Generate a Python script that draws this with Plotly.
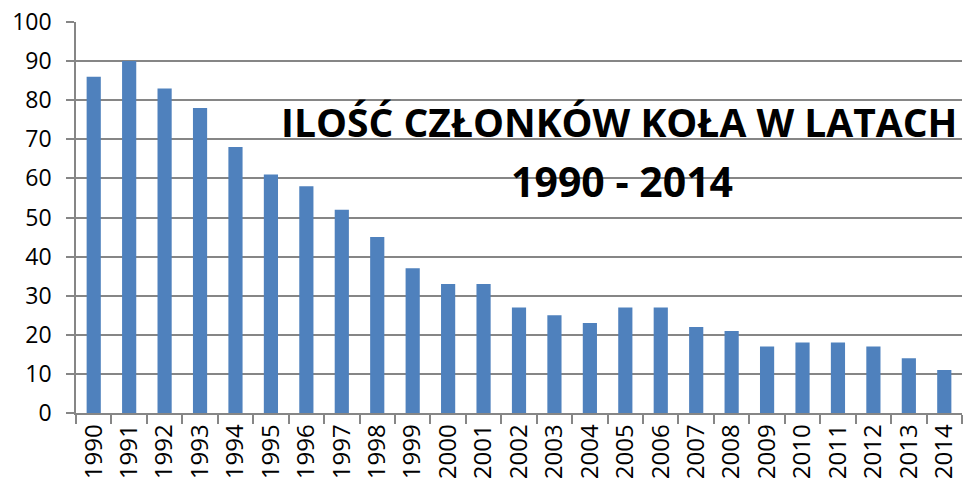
import plotly.graph_objects as go

years = [str(y) for y in range(1990, 2015)]
members = [86, 90, 83, 78, 68, 61, 58, 52, 45, 37, 33, 33, 27, 25, 23, 27, 27, 22, 21, 17, 18, 18, 17, 14, 11]
title_line1 = "ILOŚĆ CZŁONKÓW KOŁA W LATACH"
title_line2 = "1990 - 2014"

FONT = "Open Sans"
GRID = "#868686"
W, H = 967, 483
L, T = 76, 22
R = W - 962
B = H - 413

fig = go.Figure(go.Bar(x=years, y=members, marker=dict(color="#4F81BD", line=dict(width=0)), width=0.4))

fig.update_layout(
    width=W, height=H,
    margin=dict(l=L, r=R, t=T, b=B, autoexpand=False),
    paper_bgcolor="white", plot_bgcolor="white",
    showlegend=False,
    font=dict(family=FONT, size=22, color="black"),
    bargap=0.6,
)
fig.update_xaxes(
    type="category", showgrid=False, showline=True, linecolor=GRID, linewidth=1.5,
    ticks="outside", ticklen=9, tickcolor=GRID, tickwidth=1.5, tickson="boundaries",
    tickangle=-90, tickfont=dict(family=FONT, size=24), automargin=False,
    ticklabeloverflow="allow",
)
fig.update_yaxes(
    range=[0, 100], dtick=10, showgrid=True, gridcolor=GRID, gridwidth=1.5,
    showline=True, linecolor=GRID, linewidth=1.5, zeroline=False,
    ticks="outside", ticklen=8, tickcolor=GRID, tickwidth=1.5,
    tickfont=dict(family=FONT, size=23), ticklabelstandoff=10, automargin=False,
    ticklabeloverflow="allow",
)
for txt, px, py, fs in [(title_line1, 619, 121, 39), (title_line2, 622, 181, 41)]:
    fig.add_annotation(text="<b>" + txt + "</b>",
                       x=(px - L) / (W - L - R), y=1 - (py - T) / (H - T - B),
                       xref="paper", yref="paper", xanchor="center", yanchor="middle",
                       showarrow=False, font=dict(family=FONT, size=fs, color="black"))

fig.write_html("out.html", config={"displayModeBar": False},
               post_script="document.body.style.margin='0';")
